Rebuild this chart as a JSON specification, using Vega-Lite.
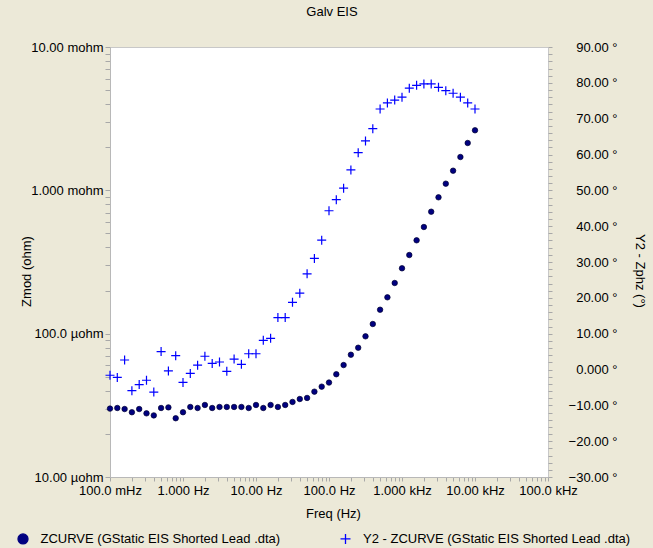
{
  "$schema": "https://vega.github.io/schema/vega-lite/v6.json",
  "width": 438,
  "height": 430,
  "autosize": {"type": "none"},
  "padding": {"left": 110, "top": 47, "right": 105, "bottom": 71},
  "background": "#ECE9D8",
  "title": {"text": "Galv EIS", "frame": "group", "anchor": "middle", "dx": 3, "offset": 12, "baseline": "alphabetic", "fontSize": 13, "fontWeight": "normal", "font": "Liberation Sans", "color": "#000000"},
  "config": {
    "font": "Liberation Sans",
    "view": {"fill": "#FFFFFF", "stroke": "#c8c8c8", "strokeWidth": 1},
    "axis": {"labelFont": "Liberation Sans", "labelFontSize": 13, "labelColor": "#000000", "titleFont": "Liberation Sans", "titleFontSize": 13, "titleFontWeight": "normal", "titleColor": "#000000", "tickColor": "#a8a8a8", "domainColor": "#b8b8b8", "grid": false, "labelOverlap": false, "labelFlush": false, "labelBound": false},
    "legend": {"labelFont": "Liberation Sans", "labelFontSize": 13, "labelColor": "#000000", "labelLimit": 0, "title": null, "orient": "none", "legendX": -93.5, "legendY": 485, "direction": "horizontal", "columns": 2, "columnPadding": 56.5, "symbolSize": 100, "labelOffset": 11, "symbolStrokeWidth": 1.3, "symbolOpacity": 1}
  },
  "data": {"values": [
    {"f": 0.1, "zmod": 3.00e-5, "phase": -1.6},
    {"f": 0.1259, "zmod": 3.03e-5, "phase": -2.2},
    {"f": 0.1585, "zmod": 2.98e-5, "phase": 2.65},
    {"f": 0.1995, "zmod": 2.83e-5, "phase": -5.9},
    {"f": 0.2512, "zmod": 2.98e-5, "phase": -4.2},
    {"f": 0.3162, "zmod": 2.78e-5, "phase": -3.0},
    {"f": 0.3981, "zmod": 2.69e-5, "phase": -6.3},
    {"f": 0.5012, "zmod": 3.03e-5, "phase": 5.0},
    {"f": 0.631, "zmod": 3.06e-5, "phase": -0.4},
    {"f": 0.7943, "zmod": 2.57e-5, "phase": 3.85},
    {"f": 1, "zmod": 2.83e-5, "phase": -3.6},
    {"f": 1.259, "zmod": 3.08e-5, "phase": -1.1},
    {"f": 1.585, "zmod": 3.03e-5, "phase": 1.2},
    {"f": 1.995, "zmod": 3.18e-5, "phase": 3.7},
    {"f": 2.512, "zmod": 3.03e-5, "phase": 1.7},
    {"f": 3.162, "zmod": 3.08e-5, "phase": 2.1},
    {"f": 3.981, "zmod": 3.08e-5, "phase": -0.5},
    {"f": 5.012, "zmod": 3.08e-5, "phase": 2.9},
    {"f": 6.31, "zmod": 3.08e-5, "phase": 1.45},
    {"f": 7.943, "zmod": 3.03e-5, "phase": 4.4},
    {"f": 10, "zmod": 3.18e-5, "phase": 4.4},
    {"f": 12.59, "zmod": 3.03e-5, "phase": 8.15},
    {"f": 15.85, "zmod": 3.18e-5, "phase": 8.7},
    {"f": 19.95, "zmod": 3.08e-5, "phase": 14.5},
    {"f": 25.12, "zmod": 3.18e-5, "phase": 14.5},
    {"f": 31.62, "zmod": 3.34e-5, "phase": 18.75},
    {"f": 39.81, "zmod": 3.50e-5, "phase": 21.3},
    {"f": 50.12, "zmod": 3.56e-5, "phase": 26.7},
    {"f": 63.1, "zmod": 3.94e-5, "phase": 31.0},
    {"f": 79.43, "zmod": 4.27e-5, "phase": 36.1},
    {"f": 100, "zmod": 4.56e-5, "phase": 44.3},
    {"f": 125.9, "zmod": 5.21e-5, "phase": 47.4},
    {"f": 158.5, "zmod": 6.04e-5, "phase": 50.6},
    {"f": 199.5, "zmod": 7.13e-5, "phase": 55.7},
    {"f": 251.2, "zmod": 7.98e-5, "phase": 60.5},
    {"f": 316.2, "zmod": 9.58e-5, "phase": 63.8},
    {"f": 398.1, "zmod": 1.168e-4, "phase": 67.2},
    {"f": 501.2, "zmod": 1.469e-4, "phase": 72.7},
    {"f": 631, "zmod": 1.793e-4, "phase": 74.4},
    {"f": 794.3, "zmod": 2.257e-4, "phase": 75.2},
    {"f": 1000, "zmod": 2.858e-4, "phase": 76.0},
    {"f": 1259, "zmod": 3.538e-4, "phase": 78.5},
    {"f": 1585, "zmod": 4.48e-4, "phase": 79.3},
    {"f": 1995, "zmod": 5.548e-4, "phase": 79.7},
    {"f": 2512, "zmod": 7.095e-4, "phase": 79.7},
    {"f": 3162, "zmod": 8.94e-4, "phase": 78.75},
    {"f": 3981, "zmod": 1.113e-3, "phase": 77.8},
    {"f": 5012, "zmod": 1.371e-3, "phase": 77.1},
    {"f": 6310, "zmod": 1.708e-3, "phase": 76.0},
    {"f": 7943, "zmod": 2.139e-3, "phase": 74.4},
    {"f": 10000, "zmod": 2.623e-3, "phase": 72.7}
  ]},
  "encoding": {
    "x": {"field": "f", "type": "quantitative", "scale": {"type": "log", "domain": [0.1, 100000], "nice": false},
      "axis": {"title": "Freq (Hz)", "titleX": 223, "titleY": 36, "titleBaseline": "middle", "titleAnchor": null, "titleAlign": "center",
        "values": [0.1,0.2,0.3,0.4,0.5,0.6,0.7,0.8,0.9,1,2,3,4,5,6,7,8,9,10,20,30,40,50,60,70,80,90,100,200,300,400,500,600,700,800,900,1000,2000,3000,4000,5000,6000,7000,8000,9000,10000,20000,30000,40000,50000,60000,70000,80000,90000,100000],
        "tickSize": 4, "labelPadding": 3,
        "labelExpr": "datum.value == 0.1 ? '100.0 mHz' : datum.value == 1 ? '1.000 Hz' : datum.value == 10 ? '10.00 Hz' : datum.value == 100 ? '100.0 Hz' : datum.value == 1000 ? '1.000 kHz' : datum.value == 10000 ? '10.00 kHz' : datum.value == 100000 ? '100.0 kHz' : ''"}}
  },
  "layer": [
    {
      "mark": {"type": "point", "filled": false, "size": 81, "strokeWidth": 1.2, "opacity": 1},
      "encoding": {
        "y": {"field": "phase", "type": "quantitative", "scale": {"domain": [-30, 90], "nice": false, "zero": false},
          "axis": {"orient": "right", "title": "Y2 - Zphz (°)", "titleX": 91, "titleY": 223.5, "titleAngle": 90, "titleAlign": "center", "titleBaseline": "middle", "titleAnchor": null,
            "values": [-30,-28,-26,-24,-22,-20,-18,-16,-14,-12,-10,-8,-6,-4,-2,0,2,4,6,8,10,12,14,16,18,20,22,24,26,28,30,32,34,36,38,40,42,44,46,48,50,52,54,56,58,60,62,64,66,68,70,72,74,76,78,80,82,84,86,88,90],
            "tickSize": 4, "labelPadding": 65, "labelAlign": "right", "domain": false,
            "labelExpr": "datum.value % 10 != 0 ? '' : datum.value == 0 ? '0.000 °' : format(datum.value, '.2f') + ' °'"}},
        "color": {"datum": "Y2 - ZCURVE (GStatic EIS Shorted Lead .dta)", "type": "nominal",
          "scale": {"domain": ["ZCURVE (GStatic EIS Shorted Lead .dta)", "Y2 - ZCURVE (GStatic EIS Shorted Lead .dta)"], "range": ["#000080", "#0000ff"]}},
        "shape": {"datum": "Y2 - ZCURVE (GStatic EIS Shorted Lead .dta)", "type": "nominal",
          "scale": {"domain": ["ZCURVE (GStatic EIS Shorted Lead .dta)", "Y2 - ZCURVE (GStatic EIS Shorted Lead .dta)"], "range": ["circle", "M-1,0H1M0,-1V1"]}}
      }
    },
    {
      "mark": {"type": "point", "filled": true, "size": 30, "stroke": "#000030", "strokeWidth": 0.7, "opacity": 1},
      "encoding": {
        "y": {"field": "zmod", "type": "quantitative", "scale": {"type": "log", "domain": [0.00001, 0.01], "nice": false},
          "axis": {"orient": "left", "title": "Zmod (ohm)", "titleX": -84, "titleY": 224, "titleAngle": -90, "titleAlign": "center", "titleBaseline": "middle", "titleAnchor": null,
            "values": [0.00001,0.00002,0.00003,0.00004,0.00005,0.00006,0.00007,0.00008,0.00009,0.0001,0.0002,0.0003,0.0004,0.0005,0.0006,0.0007,0.0008,0.0009,0.001,0.002,0.003,0.004,0.005,0.006,0.007,0.008,0.009,0.01],
            "tickSize": 5, "labelPadding": 2,
            "labelExpr": "datum.value == 0.00001 ? '10.00 µohm' : datum.value == 0.0001 ? '100.0 µohm' : datum.value == 0.001 ? '1.000 mohm' : datum.value == 0.01 ? '10.00 mohm' : ''"}},
        "color": {"datum": "ZCURVE (GStatic EIS Shorted Lead .dta)", "type": "nominal"},
        "shape": {"datum": "ZCURVE (GStatic EIS Shorted Lead .dta)", "type": "nominal"}
      }
    }
  ],
  "resolve": {"scale": {"y": "independent"}, "axis": {"y": "independent"}}
}
